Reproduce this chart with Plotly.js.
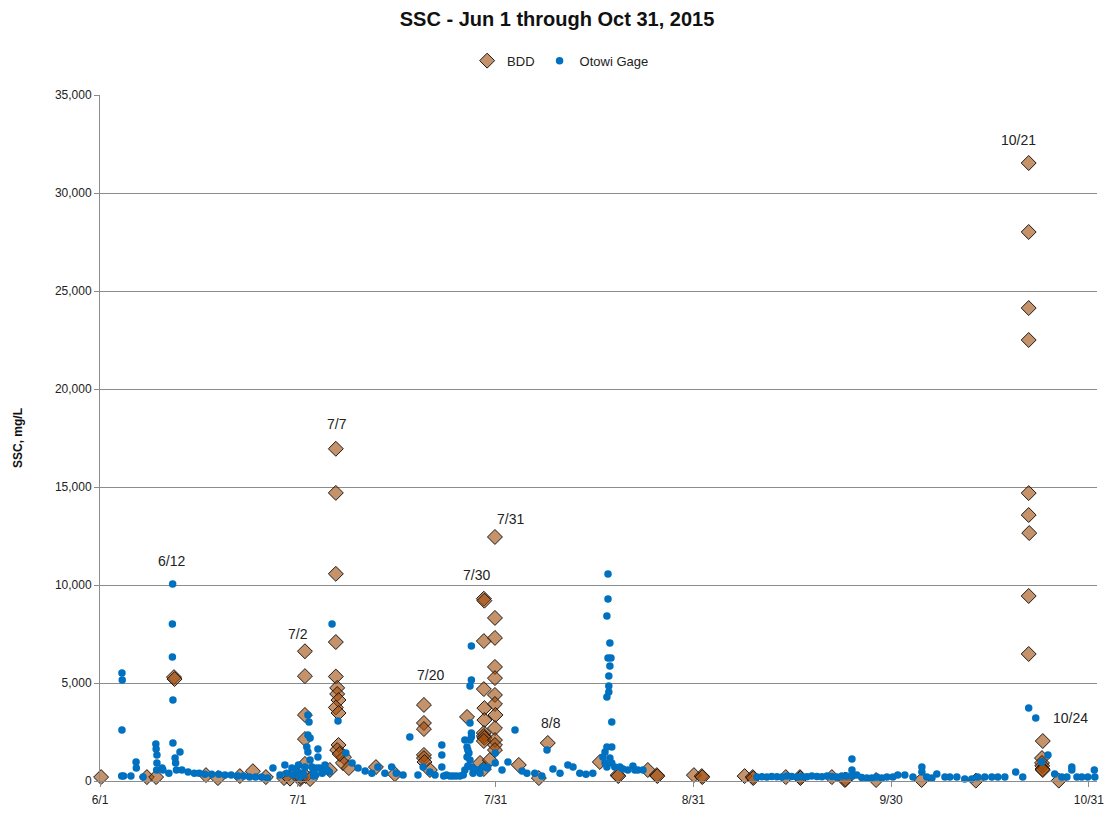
<!DOCTYPE html>
<html>
<head>
<meta charset="utf-8">
<script src="https://cdn.plot.ly/plotly-3.0.1.min.js"></script>
<style>html,body{margin:0;padding:0;background:#fff;}#chart{width:1114px;height:815px;}</style>
</head>
<body>
<div id="chart"></div>
<script>
// ---- Data (year 2015, "MM-DD HH") ----
const bddDates = ['06-01 04','06-08 05','06-09 15','06-12 09','06-12 11','06-17 07','06-19 03','06-22 12','06-24 12','06-26 12','06-29 07','06-30 05','07-01 18','07-01 21','07-02 12','07-02 12','07-02 12','07-02 12','07-02 12','07-02 14','07-03 07','07-06 08','07-07 06','07-07 06','07-07 06','07-07 06','07-07 06','07-07 11','07-07 11','07-07 16','07-07 06','07-07 16','07-07 16','07-07 11','07-08 12','07-08 08','07-07 20','07-09 06','07-13 10','07-16 08','07-20 19','07-20 19','07-20 19','07-20 19','07-20 19','07-20 21','07-21 17','07-27 10','07-30 00','07-30 02','07-30 00','07-30 00','07-30 02','07-30 02','07-30 00','07-30 00','07-30 02','07-30 00','07-29 10','07-30 00','07-31 17','07-31 17','07-31 17','07-31 17','07-31 17','07-31 17','07-31 17','07-31 19','07-31 17','07-31 17','07-31 17','07-31 17','07-30 22','08-04 09','08-07 11','08-08 20','08-16 20','08-19 14','08-19 16','08-24 05','08-25 14','08-25 16','08-31 07','09-01 12','09-01 14','09-08 02','09-09 08','09-09 10','09-14 10','09-16 14','09-16 16','09-21 12','09-23 12','09-23 14','09-28 07','10-05 07','10-13 15','10-21 18','10-21 18','10-21 18','10-21 18','10-21 18','10-21 18','10-21 20','10-21 18','10-21 18','10-23 22','10-23 19','10-23 19','10-23 20','10-23 21','10-23 22','10-26 09'];
const bddSSC = [200,200,200,5300,5200,300,150,250,500,200,150,120,100,200,6620,5350,3370,2140,870,250,100,560,16950,14700,10570,7090,5330,4750,4440,4130,3750,3470,1840,1580,1220,920,1380,660,710,350,3880,2960,2650,1330,1170,970,560,3270,9300,9200,7140,4690,3720,3110,2450,2300,2200,2040,920,610,12450,8320,7300,5820,5250,4390,3930,3370,2700,2090,1840,1580,1070,820,150,1940,970,300,250,560,300,250,300,250,200,250,200,150,200,200,150,200,50,80,50,50,20,31530,28010,24130,22500,14690,13570,12650,9440,6480,2040,1170,920,770,610,560,20];

const otowiDates = ['06-04 09','06-04 10','06-04 09','06-04 08','06-04 15','06-05 18','06-06 13','06-06 14','06-07 15','06-09 14','06-09 15','06-09 18','06-09 18','06-09 17','06-10 13','06-10 16','06-11 14','06-12 04','06-12 03','06-12 03','06-12 05','06-12 05','06-12 13','06-12 15','06-12 18','06-13 07','06-13 14','06-14 13','06-15 12','06-16 06','06-17 03','06-18 04','06-19 06','06-20 05','06-21 04','06-22 04','06-23 02','06-24 00','06-24 22','06-25 20','06-26 18','06-27 14','06-28 16','06-29 10','06-29 17','06-30 12','06-30 16',
'07-01 06','07-01 12','07-01 18','07-02 05','07-02 08','07-02 12','07-02 23','07-03 03','07-02 23','07-03 07','07-02 19','07-02 23','07-04 12','07-04 12','07-03 07','07-03 14','07-03 18','07-03 20','07-04 04','07-04 08','07-04 19','07-05 04','07-05 14','07-05 22','07-06 06','07-06 16','07-07 14','07-08 19','07-09 18','07-10 16','07-11 18','07-12 19','07-13 17','07-14 19','07-15 20','07-16 13','07-17 14','07-18 15','07-19 21','07-20 16','07-21 17','07-22 12','07-23 13','07-23 13','07-23 13','07-23 20','07-24 06','07-24 19','07-25 06','07-25 18','07-26 08','07-26 20','07-27 02','07-27 02','07-27 21','07-27 21','07-27 21','07-27 21','07-28 02','07-28 02','07-28 02','07-28 02','07-27 17','07-28 02','07-27 10','07-27 10','07-27 13','07-27 13','07-28 08','07-28 08','07-28 22','07-29 10','07-29 19','07-30 13','07-30 14','07-31 18','07-31 18',
'08-01 19','08-02 17','08-03 19','08-04 21','08-05 15','08-06 20','08-07 22','08-08 17','08-09 15','08-10 17','08-11 22','08-12 17','08-13 18','08-14 17','08-15 18','08-18 02','08-18 02','08-17 22','08-18 09','08-18 02','08-18 13','08-18 09','08-18 05','08-18 05','08-18 05','08-17 22','08-18 16','08-17 22','08-18 16','08-17 15','08-17 07','08-17 15','08-17 22','08-18 09','08-18 16','08-19 03','08-19 22','08-20 09','08-21 03','08-21 22','08-22 05','08-22 16','08-23 11',
'09-09 23','09-10 18','09-11 12','09-12 06','09-13 01','09-13 19','09-14 14','09-15 08','09-16 03','09-16 21','09-17 16','09-18 10','09-19 05','09-19 23','09-20 18','09-21 12','09-22 06','09-23 01','09-23 19','09-24 14','09-24 14','09-24 16','09-25 08','09-26 02','09-26 21','09-27 15','09-28 10','09-29 04','09-29 23','09-30 21',
'10-01 15','10-02 17','10-03 23','10-05 08','10-05 08','10-06 02','10-06 21','10-07 15','10-08 21','10-09 15','10-10 17','10-11 22','10-13 00','10-13 22','10-15 00','10-16 02','10-17 00','10-18 02','10-19 18','10-20 20','10-21 18','10-22 20','10-23 18','10-24 17','10-25 18','10-26 20','10-27 15','10-28 09','10-28 09','10-29 04','10-29 22','10-30 20','10-31 22','10-31 20'];
const otowiSSC = [5510,5150,2600,250,250,250,970,660,200,1890,1630,1330,920,560,660,560,400,10050,8010,6330,4130,1940,1170,920,560,1480,560,460,400,400,350,350,350,300,300,250,250,200,200,200,150,660,300,820,400,660,300,
560,820,200,400,300,710,3370,3010,2350,2190,1730,1480,1630,1220,1070,710,460,250,300,660,660,400,820,560,460,8010,3060,1430,920,660,510,400,710,400,710,400,300,2240,300,710,460,300,1840,1330,710,250,300,250,250,250,250,300,560,2090,4850,2960,2090,1070,6890,5150,2450,2240,1430,710,1730,1220,1580,765,400,660,560,400,710,660,710,1430,920,
560,970,2600,510,400,400,250,1580,610,400,820,710,400,350,400,10560,9290,8420,7040,6280,6280,5870,5360,4850,4540,4290,3010,1730,1730,1480,1220,920,710,1170,920,710,710,610,560,765,560,560,560,
200,220,200,230,220,200,250,230,200,230,220,250,230,220,250,230,200,250,250,1120,560,250,300,180,150,150,200,150,200,200,
300,300,200,710,460,200,150,360,200,200,200,100,100,200,200,200,200,200,460,200,3720,3210,970,1330,360,200,200,710,560,200,200,200,200,560];

const xTickLabels = ['6/1','7/1','7/31','8/31','9/30','10/31'];
const xTickDates = ['2015-06-01 00:00','2015-07-01 09:36','2015-07-31 19:12','2015-08-31 04:48','2015-09-30 14:24','2015-10-31 00:00'];

const labelTexts = ['6/12','7/2','7/7','7/20','7/30','7/31','8/8','10/21','10/24'];
const labelDates = ['06-11 22','07-01 10','07-07 10','07-21 21','07-28 22','08-03 04','08-09 07','10-20 06','10-28 05'];
const labelSSC = [11224,7500,18214,5408,10510,13367,2959,32704,3214];

const d = s => '2015-' + s + ':00';
const FONT = 'Liberation Sans, Arial, sans-serif';

const traces = [
  {
    type: 'scatter', mode: 'markers', name: 'BDD',
    x: bddDates.map(d), y: bddSSC,
    marker: { symbol: 'diamond', size: 11.5, color: 'rgba(160,73,7,0.6)', line: { color: '#1a1a1a', width: 1 } },
    cliponaxis: false
  },
  {
    type: 'scatter', mode: 'markers', name: 'Otowi Gage',
    x: otowiDates.map(d), y: otowiSSC,
    marker: { symbol: 'circle', size: 7.5, color: '#0070C0', line: { width: 0 } },
    cliponaxis: false
  }
];

const layout = {
  width: 1114, height: 815,
  paper_bgcolor: '#fff', plot_bgcolor: '#fff',
  margin: { l: 100, r: 17, t: 95, b: 34 },
  font: { family: FONT, size: 12, color: '#222' },
  title: { text: '<b>SSC - Jun 1 through Oct 31, 2015</b>', font: { family: FONT, size: 20, color: '#111' }, x: 0.5, xanchor: 'center', y: 0.977, yanchor: 'middle' },
  showlegend: true,
  legend: { orientation: 'h', x: 0.462, xanchor: 'center', y: 1.05, yanchor: 'middle', font: { family: FONT, size: 13, color: '#222' }, itemwidth: 30, tracegroupgap: 0, bgcolor: 'rgba(0,0,0,0)' },
  xaxis: {
    type: 'date', range: ['2015-06-01 00:00', '2015-11-01 06:00'],
    tickmode: 'array', tickvals: xTickDates, ticktext: xTickLabels,
    showgrid: false, zeroline: false, showline: true, linecolor: '#8c8c8c', linewidth: 1,
    ticks: 'outside', ticklen: 5, tickcolor: '#8c8c8c', ticklabelstandoff: 3,
    tickfont: { family: FONT, size: 12, color: '#222' }
  },
  yaxis: {
    range: [0, 35000], tickmode: 'linear', tick0: 0, dtick: 5000, tickformat: ',d',
    showgrid: true, gridcolor: '#8c8c8c', gridwidth: 1, zeroline: false,
    showline: true, linecolor: '#8c8c8c', linewidth: 1,
    ticks: 'outside', ticklen: 5, tickcolor: '#8c8c8c',
    tickfont: { family: FONT, size: 12, color: '#222' },
    title: { text: '<b>SSC, mg/L</b>', font: { family: FONT, size: 12, color: '#111' }, standoff: 29 }
  },
  annotations: labelTexts.map((t, i) => ({
    x: d(labelDates[i]), y: labelSSC[i], xref: 'x', yref: 'y', text: t, showarrow: false,
    font: { family: FONT, size: 14, color: '#222' }, xanchor: 'center', yanchor: 'middle'
  }))
};

Plotly.newPlot('chart', traces, layout, { displayModeBar: false, staticPlot: true });
</script>
</body>
</html>
